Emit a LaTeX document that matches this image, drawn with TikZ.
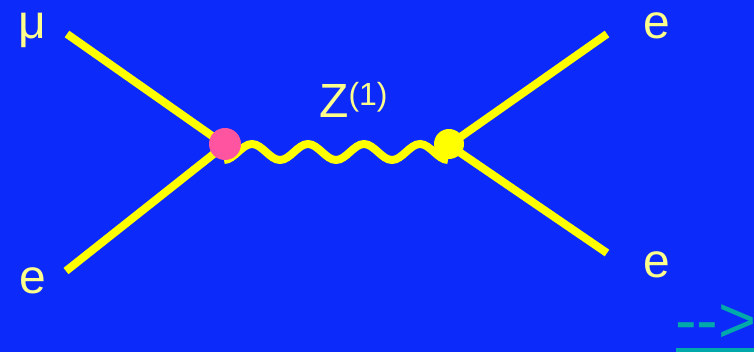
\documentclass[tikz,border=0pt]{standalone}
\usepackage{fontspec}
\setmainfont{Liberation Sans}
\definecolor{bg}{RGB}{12,42,250}
\definecolor{fline}{RGB}{255,255,0}
\definecolor{ftext}{RGB}{255,255,140}
\definecolor{pinkdot}{RGB}{255,85,160}
\definecolor{teal2}{RGB}{0,170,170}
\begin{document}
\begin{tikzpicture}[x=1pt,y=-1pt,
  fermion/.style={draw=fline, line width=8pt},
  lbl/.style={text=ftext, font=\fontsize{48}{48}\selectfont, inner sep=0pt, anchor=base},
  vertexdot/.style={circle, inner sep=0pt, draw=none}]
\fill[bg] (0,0) rectangle (754,352);
\useasboundingbox (0,0) rectangle (754,352);
\clip (0,0) rectangle (754,352);
% vertices and external ends
\coordinate (v1) at (225,145);
\coordinate (v2) at (449,145);
\coordinate (emu) at (67,34);
\coordinate (eel) at (66,271);
\coordinate (etr) at (607,34);
\coordinate (ebr) at (607,253);
\coordinate (w1) at (224,160);
% external lines
\draw[fermion] (emu) -- (v1);
\draw[fermion] (eel) -- (v1);
\draw[fermion] (v2) -- (etr);
\draw[fermion] (v2) -- (ebr);
% wavy propagator
\draw[fermion] (w1)
  cos ++(14,-8) sin ++(14,-8) cos ++(14,8) sin ++(14,8)
  cos ++(14,-8) sin ++(14,-8) cos ++(14,8) sin ++(14,8)
  cos ++(14,-8) sin ++(14,-8) cos ++(14,8) sin ++(14,8)
  cos ++(14,-8) sin ++(14,-8) cos ++(14,8) sin ++(14,8);
% vertex dots
\node[vertexdot, fill=pinkdot, minimum size=32pt] (d1) at (225,144) {};
\node[vertexdot, fill=fline, minimum size=30pt] (d2) at (449,144) {};
% labels
\node[lbl] (lmu) at (32.5,39) {μ};
\node[lbl] (lel) at (32.5,294) {e};
\node[lbl] (ltr) at (657,38.5) {e};
\node[lbl] (lbr) at (657,277.5) {e};
\node[lbl, anchor=base west] (lz) at (319,118) {Z\raisebox{12.5pt}{\fontsize{32}{32}\selectfont (1)}};
% link arrow
\node[text=teal2, font=\fontsize{65}{65}\selectfont, inner sep=0pt, anchor=base west] (lnk) at (675,342) {-{}-{}>};
\fill[teal2] (676,348) rectangle (754,353);
\end{tikzpicture}
\end{document}
